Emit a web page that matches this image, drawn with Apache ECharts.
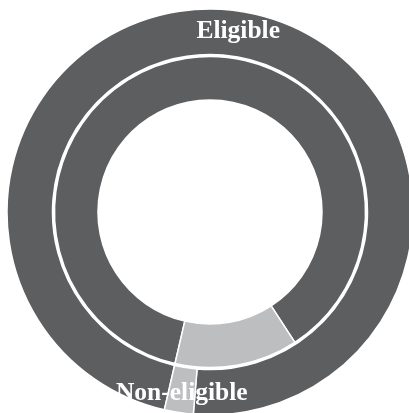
<!DOCTYPE html>
<html>
<head>
<meta charset="utf-8">
<script src="https://cdn.jsdelivr.net/npm/echarts@6/dist/echarts.min.js"></script>
<style>html,body{margin:0;padding:0;background:#fff;}#c{width:409px;height:413px;}</style>
</head>
<body>
<div id="c"></div>
<script>
var categories = ['Eligible', 'Non-eligible'];
var innerValues = [87.2, 12.8];
var outerValues = [97.7, 2.3];
var colors = ['#5d5e60', '#bdbec0'];

var chart = echarts.init(document.getElementById('c'), null, {renderer: 'canvas'});
function build(values) {
  return categories.map(function (c, i) {
    return {name: c, value: values[i], itemStyle: {color: colors[i]}};
  });
}
chart.setOption({
  animation: false,
  series: [
    {
      type: 'pie',
      center: [210, 212],
      radius: [112, 155.5],
      startAngle: -103,
      clockwise: true,
      silent: true,
      label: {show: false},
      labelLine: {show: false},
      itemStyle: {borderColor: '#fff', borderWidth: 1.5},
      data: build(innerValues)
    },
    {
      type: 'pie',
      center: [210, 212],
      radius: [157.5, 203],
      startAngle: -103,
      clockwise: true,
      silent: true,
      label: {
        show: true,
        position: 'inside',
        formatter: '{b}',
        color: '#ffffff',
        fontFamily: 'Liberation Serif',
        fontWeight: 'bold',
        fontSize: 25.5
      },
      labelLine: {show: false},
      itemStyle: {borderColor: '#fff', borderWidth: 1.5},
      data: build(outerValues)
    }
  ]
});
</script>
</body>
</html>
